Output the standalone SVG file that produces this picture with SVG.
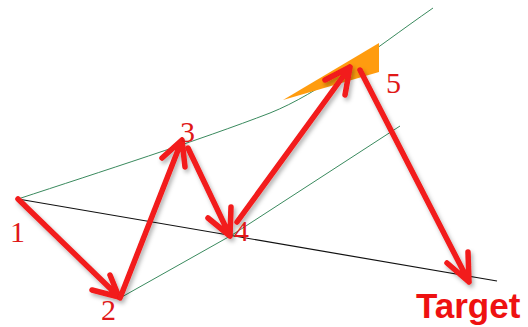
<svg xmlns="http://www.w3.org/2000/svg" width="528" height="327" viewBox="0 0 528 327">
<defs>
<style>
.guide{fill:none;stroke:#3a8a5e;stroke-width:1}
.base{fill:none;stroke:#111;stroke-width:1.2}
.arr{fill:none;stroke:#f21a1a;stroke-width:5.5;stroke-linecap:round;stroke-linejoin:round}
.num{font-family:"Liberation Serif",serif;font-size:30px;fill:#e01818}
.tgt{font-family:"Liberation Sans",Arial,sans-serif;font-weight:bold;font-size:35px;fill:#ee1111}
</style>
<filter id="sh" x="-20%" y="-20%" width="140%" height="140%">
<feDropShadow dx="2" dy="3" stdDeviation="2" flood-color="#000" flood-opacity="0.3"/>
</filter>
</defs>
<rect width="528" height="327" fill="#fff"/>
<g id="guides">
<path class="guide" d="M18,199 C100,172 200,140 270,113 C320,93 370,52 433,8"/>
<path class="guide" d="M120,298 L232,235 L400,126"/>
<path class="base" d="M18,199 L497,281"/>
</g>
<g id="wedge">
<polygon points="283,100 379,43 379,72" fill="#ff9c0f"/>
</g>
<g id="connectors" filter="url(#sh)">
<path class="arr" d="M18,199 L119,297 M92,290 L119,297 L110,275"/>
<path class="arr" d="M120,298 L182,140 M162,158 L182,140 L185,167"/>
<path class="arr" d="M188,148 L230,236 M208,218 L230,236 L231,207"/>
<path class="arr" d="M237,222 L350,67 M325,80 L350,67 L345,95"/>
<path class="arr" d="M360,70 L469,282 M447,263 L469,282 L468,252"/>
</g>
<g id="n1"><text class="num" x="10" y="242">1</text></g>
<g id="n2"><text class="num" x="101" y="320">2</text></g>
<g id="n3"><text class="num" x="180" y="142">3</text></g>
<g id="n4"><text class="num" x="234" y="241">4</text></g>
<g id="n5"><text class="num" x="386" y="93">5</text></g>
<g id="target"><text class="tgt" x="416" y="318">Target</text></g>
</svg>
